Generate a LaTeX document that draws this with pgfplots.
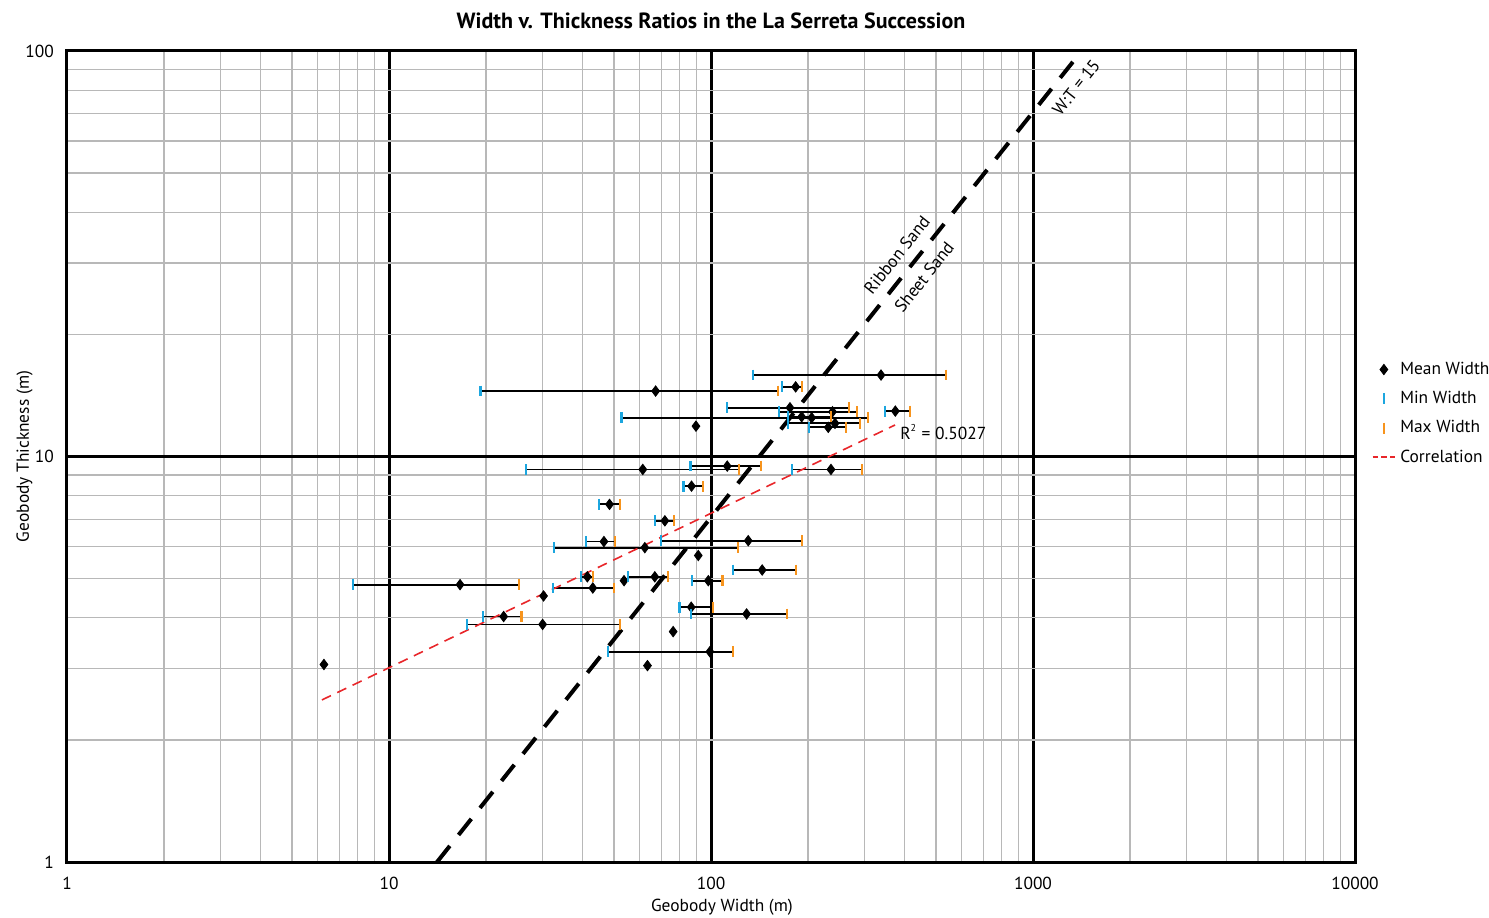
\documentclass[border=0pt]{standalone}
\usepackage{fontspec}
\setmainfont{PT Sans}
\usepackage{pgfplots}
\pgfplotsset{compat=1.18}
\usepackage{pgfplotstable}
\usetikzlibrary{calc}
\definecolor{minblue}{HTML}{1CA6DF}
\definecolor{maxorange}{HTML}{F7941D}
\definecolor{correl}{HTML}{E8262A}

\pgfplotstableread{
y mn mean mx
15.88 135.3 337.3 537
14.50 19.23 67.3 161.8
14.85 166.4 183.2 192.0
13.19 112.3 175.9 268.9
12.89 162.9 238.4 283.5
12.94 347.1 373.6 414.2
12.46 52.76 205.4 307.9
12.53 173.8 191.2 235.8
12.07 173.8 242.7 290.2
11.80 202.0 231.3 262.7
11.88 nan 89.8 nan
9.47 86.4 112.3 142.9
9.29 26.6 61.4 122.1
9.29 178.4 235.8 294.4
8.45 82.2 87.0 94.2
7.62 44.8 48.4 52.1
6.94 66.9 71.9 76.8
6.17 40.8 46.5 50.2
6.20 69.9 130.5 192.0
5.96 32.6 62.3 121.5
5.70 nan 91.3 nan
5.25 117.2 144.2 184.0
5.05 39.4 41.3 42.9
5.05 55.3 66.9 73.6
4.94 nan 53.7 nan
4.94 87.4 98.1 108.6
4.83 7.71 16.62 25.4
4.74 32.3 42.95 49.9
4.53 nan 30.2 nan
4.25 79.9 86.8 101.2
4.09 86.6 129.0 171.8
4.03 19.55 22.7 25.8
3.855 17.43 30.0 52.1
3.70 nan 76.3 nan
3.30 47.9 99.2 116.7
3.05 nan 63.5 nan
3.07 nan 6.28 nan
}\data

\newcommand{\lblfont}{\fontsize{8.7}{10}\selectfont}

\begin{document}
\begin{tikzpicture}
\begin{axis}[name=ax, scale only axis, width=644pt, height=405.5pt,
  xmode=log, ymode=log, xmin=1, xmax=10000, ymin=1, ymax=100,
  xtick={1,10,100,1000,10000}, xticklabels={1,10,100,1000,10000},
  ytick={1,10,100}, yticklabels={1,10,100},
  grid=both,
  major grid style={black, line width=1.5pt},
  minor grid style={black!28, line width=0.6pt},
  axis line style={line width=1.5pt},
  major tick length=0pt, minor tick length=0pt,
  tick label style={font=\lblfont},
  xticklabel style={yshift=-4pt},
  yticklabel style={xshift=-3pt},
  title={Width v. Thickness Ratios in the La Serreta Succession},
  title style={at={(axis description cs:0.5,1.022)}, anchor=center, font=\fontsize{11}{13}\selectfont\bfseries},
  xlabel={Geobody Width (m)}, ylabel={Geobody Thickness (m)},
  xlabel style={at={(axis description cs:0.5085,-0.0555)}, anchor=center, font=\lblfont},
  ylabel style={at={(axis description cs:-0.033,0.5)}, anchor=center, font=\lblfont},
  legend style={at={(axis description cs:1.0125,0.553)}, anchor=west, draw=none, fill=none,
    inner sep=0pt, font=\lblfont, row sep=3pt},
  legend image code/.code={\draw[mark repeat=2, mark phase=2, #1] plot coordinates {(0cm,0cm) (0.2cm,0cm) (0.4cm,0cm)};},
  legend cell align=left,
]
% W:T = 15 boundary line
\addplot[forget plot, black, line width=2pt, dash pattern=on 10.27pt off 7pt] coordinates {(14.1,1) (1330,94)};
% min-max bars
\addplot[forget plot, draw=none, mark=none,
  error bars/.cd, x dir=plus, x explicit, error mark=none,
  error bar style={black, line width=0.9pt}]
  table[x=mn, y=y, x error expr=\thisrow{mx}-\thisrow{mn}] {\data};
\addplot[only marks, mark=diamond*, mark size=2.6pt, black] table[x=mean, y=y] {\data};
\addlegendentry{Mean Width}
\addplot[only marks, mark=|, mark size=2.7pt, minblue, mark options={line width=1.1pt}] table[x=mn, y=y] {\data};
\addlegendentry{Min Width}
\addplot[only marks, mark=|, mark size=2.7pt, maxorange, mark options={line width=1.1pt}] table[x=mx, y=y] {\data};
\addlegendentry{Max Width}
\addplot[forget plot, correl, line width=0.8pt, dash pattern=on 5pt off 3.5pt] coordinates {(6.19,2.51) (373,11.96)};
\addlegendimage{color=correl, draw=correl, line width=1pt, dash pattern=on 2.6pt off 1.8pt}
\addlegendentry{Correlation}
\node[rotate=51.5, font=\lblfont] at (axis cs:378,31.4) {Ribbon Sand};
\node[rotate=51.5, font=\lblfont] at (axis cs:459,27.7) {Sheet Sand};
\node[rotate=51.5, font=\lblfont] at (axis cs:1361,81.4) {W:T = 15};
\node[anchor=west, font=\lblfont, inner sep=0pt] at (axis cs:386,11.5) {R\textsuperscript{\tiny 2} = 0.5027};
\end{axis}
\pgfresetboundingbox
\path[use as bounding box] ($(ax.south west)+(-33.5pt,-27.5pt)$) rectangle ($(ax.north east)+(67pt,25.5pt)$);
\end{tikzpicture}
\end{document}
